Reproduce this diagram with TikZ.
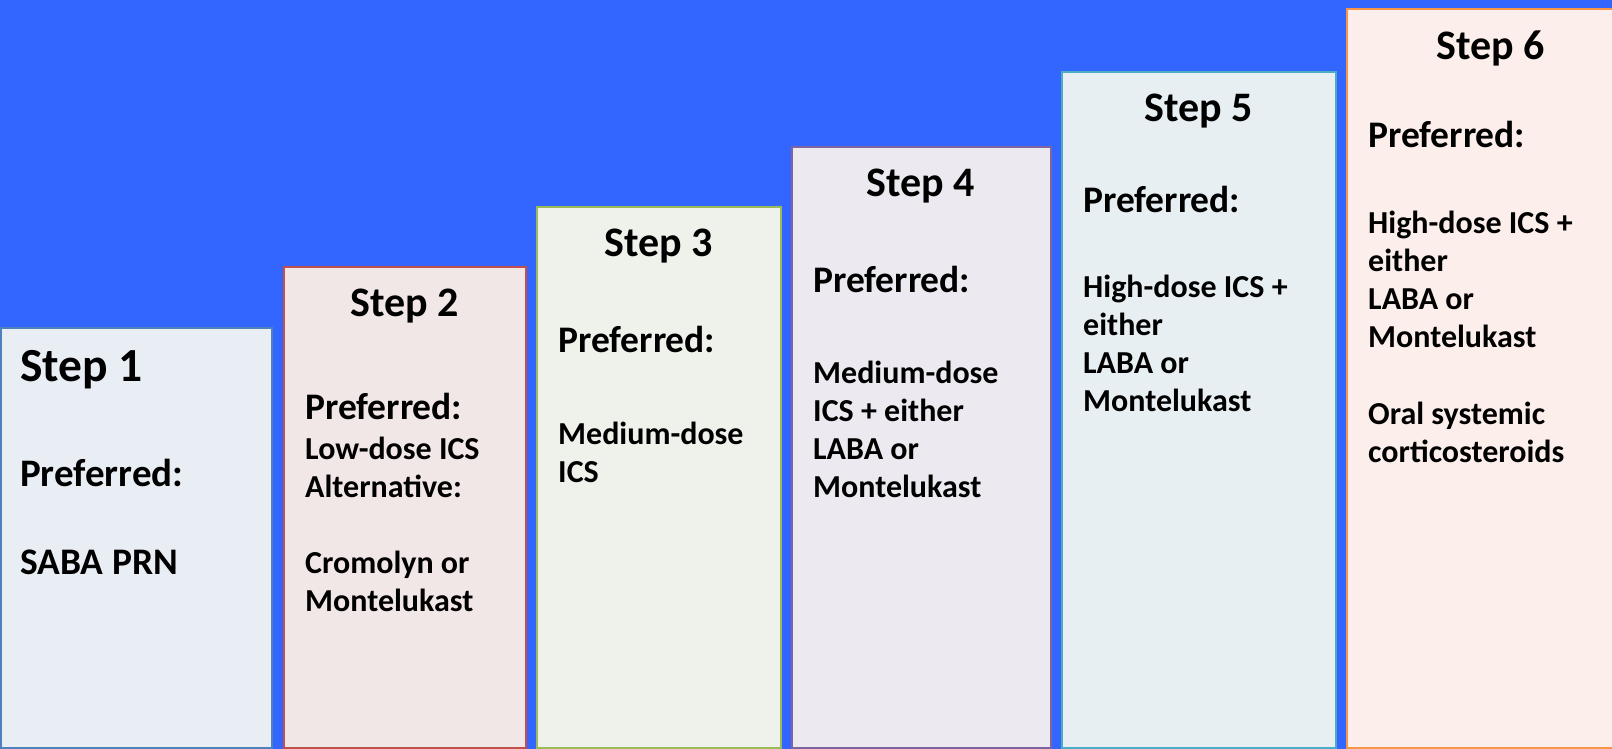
\documentclass[tikz,border=0pt]{standalone}
\usepackage{fontspec}
\setmainfont{Carlito}
\definecolor{bgblue}{RGB}{51,102,255}
\definecolor{f1}{HTML}{E9EDF4}\definecolor{d1}{HTML}{4F81BD}
\definecolor{f2}{HTML}{F2E7E7}\definecolor{d2}{HTML}{C0504D}
\definecolor{f3}{HTML}{EFF2EA}\definecolor{d3}{HTML}{9BBB59}
\definecolor{f4}{HTML}{ECEAF0}\definecolor{d4}{HTML}{8064A2}
\definecolor{f5}{HTML}{E7EFF3}\definecolor{d5}{HTML}{4BACC6}
\definecolor{f6}{HTML}{FCEEEA}\definecolor{d6}{HTML}{F79646}
\tikzset{
  stepbox/.style={draw=#1, line width=1.6pt, anchor=south west, inner sep=0pt, outer sep=0pt},
  ttl/.style={anchor=base, font=\bfseries\fontsize{42}{50}\selectfont, inner sep=0pt},
  lbl/.style={anchor=base west, font=\bfseries\fontsize{37.5}{45}\selectfont, inner sep=0pt, align=left},
  body/.style={anchor=base west, font=\bfseries\fontsize{32}{38.3}\selectfont, inner sep=0pt, align=left},
}
\begin{document}
\begin{tikzpicture}[x=1pt,y=1pt]
\useasboundingbox (0,0) rectangle (1612,749);
\fill[bgblue] (0,0) rectangle (1612,749);
\begin{scope}
\clip (0,0) rectangle (1612,749);
\node[stepbox=d1, fill=f1, minimum width=271pt, minimum height=420pt] (b1) at (0.8,1.2) {};
\node[stepbox=d2, fill=f2, minimum width=242pt, minimum height=481pt] (b2) at (284,1.2) {};
\node[stepbox=d3, fill=f3, minimum width=244pt, minimum height=541pt] (b3) at (537,1.2) {};
\node[stepbox=d4, fill=f4, minimum width=259pt, minimum height=601pt] (b4) at (792,1.2) {};
\node[stepbox=d5, fill=f5, minimum width=274pt, minimum height=676pt] (b5) at (1062,1.2) {};
\node[stepbox=d6, fill=f6, minimum width=290pt, minimum height=739pt] (b6) at (1347,1.2) {};
\end{scope}
% Step 1
\node[anchor=base west, font=\bfseries\fontsize{47.5}{56}\selectfont, inner sep=0pt] (t1) at (20,367) {Step 1};
\node[lbl, font=\bfseries\fontsize{39}{46}\selectfont] (p1) at (20,262) {Preferred:};
\node[lbl] (x1) at (20,174) {SABA PRN};
% Step 2
\node[ttl] (t2) at (405,432) {Step 2};
\node[lbl] (p2) at (305,329) {Preferred:};
\node[body] (x2) at (305,251) {Low-dose ICS\\Alternative:};
\node[body] (y2) at (305,137) {Cromolyn or\\Montelukast};
% Step 3
\node[ttl] (t3) at (659,492) {Step 3};
\node[lbl] (p3) at (558,396) {Preferred:};
\node[body] (x3) at (558,266) {Medium-dose\\ICS};
% Step 4
\node[ttl] (t4) at (921,552) {Step 4};
\node[lbl] (p4) at (813,456) {Preferred:};
\node[body] (x4) at (813,251) {Medium-dose\\ICS + either\\LABA or\\Montelukast};
% Step 5
\node[ttl] (t5) at (1199,627) {Step 5};
\node[lbl] (p5) at (1083,536) {Preferred:};
\node[body] (x5) at (1083,337) {High-dose ICS +\\either\\LABA or\\Montelukast};
% Step 6
\node[ttl] (t6) at (1491,689) {Step 6};
\node[lbl] (p6) at (1368,601) {Preferred:};
\node[body] (x6) at (1368,401) {High-dose ICS +\\either\\LABA or\\Montelukast};
\node[body] (y6) at (1368,286) {Oral systemic\\corticosteroids};
\end{tikzpicture}
\end{document}
